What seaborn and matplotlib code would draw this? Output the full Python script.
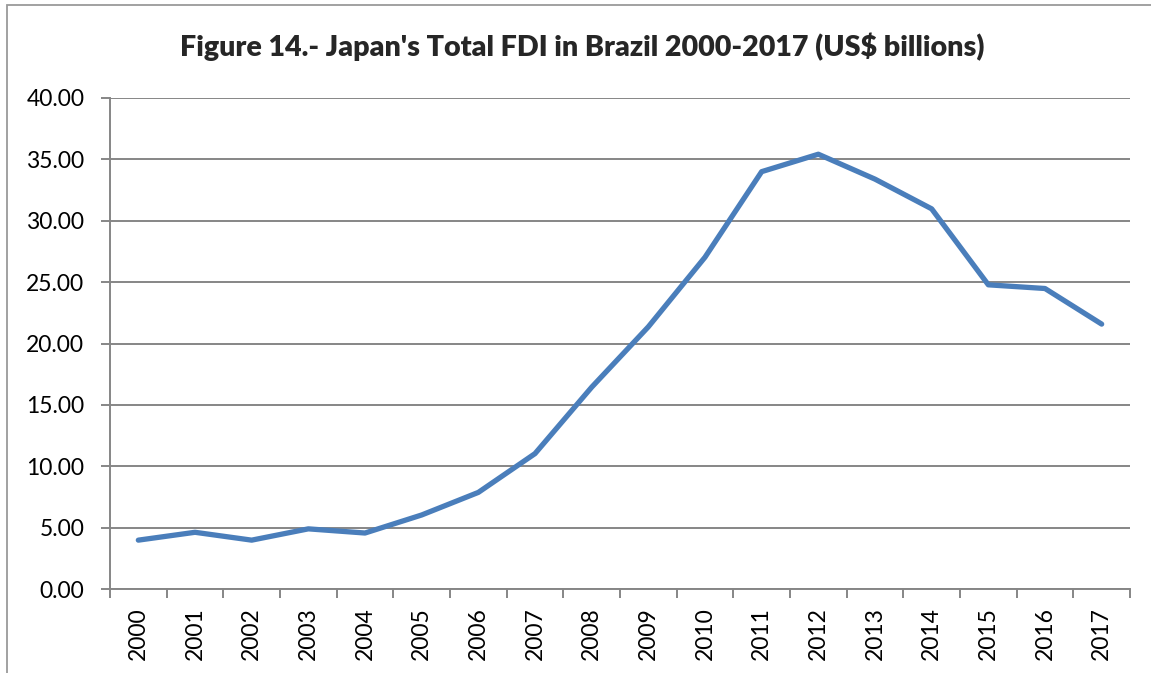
import seaborn as sns
import matplotlib.pyplot as plt
import matplotlib.patches as patches
import numpy as np
import pandas as pd

sns.set_theme(style='white')
plt.rcParams['font.family'] = ['Lato', 'DejaVu Sans']

years = ['2000', '2001', '2002', '2003', '2004', '2005', '2006', '2007', '2008',
         '2009', '2010', '2011', '2012', '2013', '2014', '2015', '2016', '2017']
fdi = [3.98, 4.62, 3.98, 4.90, 4.56, 6.03, 7.87, 11.03, 16.44,
       21.36, 27.03, 34.00, 35.42, 33.39, 30.97, 24.78, 24.48, 21.58]
y_ticks = [0, 5, 10, 15, 20, 25, 30, 35, 40]

df = pd.DataFrame({'Year': years, 'FDI': fdi})

grey = '#868686'
fig = plt.figure(figsize=(11.51, 6.73), dpi=100)
ax = fig.add_axes([110 / 1151, 1 - 589 / 673, 1020 / 1151, 491 / 673])

sns.lineplot(data=df, x='Year', y='FDI', ax=ax, color='#4A7EBB',
             linewidth=3.8, solid_joinstyle='round', solid_capstyle='round')

ax.set_xlim(-0.5, len(years) - 0.5)
ax.set_ylim(0, 40)
ax.set_yticks(y_ticks)
ax.set_yticklabels([f'{v:.2f}' for v in y_ticks])
ax.set_xticks(range(len(years)))
ax.set_xticklabels(years, rotation=90)
ax.set_xticks(np.arange(-0.5, len(years)), minor=True)
ax.set_xlabel('')
ax.set_ylabel('')

# gridlines and axes, Excel style
ax.grid(axis='y', color=grey, linewidth=1.4)
ax.grid(axis='x', visible=False)
for side in ['top', 'right']:
    ax.spines[side].set_visible(False)
for side in ['left', 'bottom']:
    ax.spines[side].set_color(grey)
    ax.spines[side].set_linewidth(1.4)
ax.tick_params(axis='y', which='major', left=True, length=6.5, width=1.4,
               color=grey, pad=12, labelsize=16.5, labelcolor='black')
ax.tick_params(axis='x', which='major', bottom=False, length=0, pad=13,
               labelsize=16.5, labelcolor='black')
ax.tick_params(axis='x', which='minor', bottom=True, length=6.5, width=1.4,
               color=grey)

fig.text(0.506, 1 - 47 / 673, "Figure 14.- Japan's Total FDI in Brazil 2000-2017 (US$ billions)",
         ha='center', va='center', fontsize=20.6, fontweight='heavy')

# chart area border (cropped on right/bottom)
fig.add_artist(patches.Rectangle((7 / 1151, -0.1), 1.2, 1 - 5 / 673 + 0.1,
                                 transform=fig.transFigure, fill=False,
                                 edgecolor='#9a9a9a', linewidth=1.3))

fig.savefig('out.png', dpi=100)
